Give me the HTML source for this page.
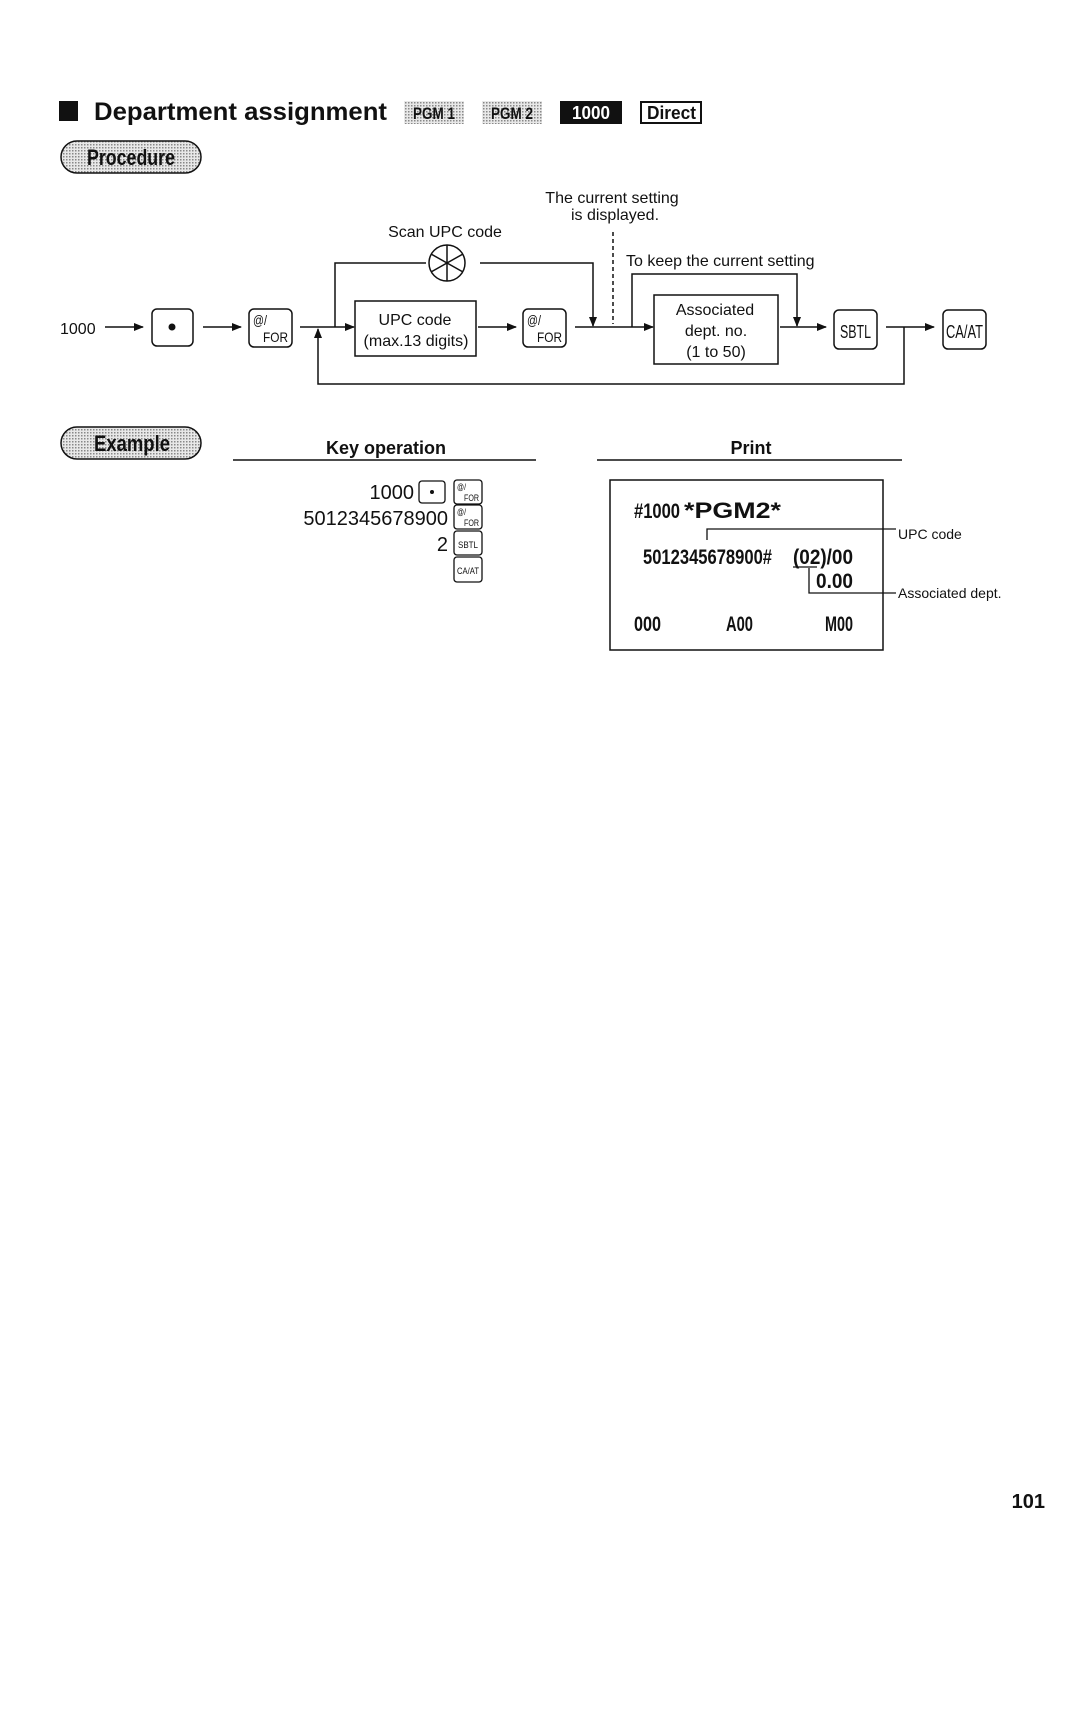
<!DOCTYPE html>
<html><head><meta charset="utf-8"><style>
html,body{margin:0;padding:0;background:#fff}
svg{display:block}
text{font-family:"Liberation Sans",sans-serif;fill:#111}
</style></head><body>
<svg width="1080" height="1710" viewBox="0 0 1080 1710" xmlns="http://www.w3.org/2000/svg">
<defs>
<pattern id="dot" width="3" height="3" patternUnits="userSpaceOnUse"><rect width="3" height="3" fill="#e8e8e8"/><rect width="1.5" height="1.5" fill="#888"/></pattern>
<marker id="ar" markerWidth="10" markerHeight="8" refX="9" refY="4" orient="auto" markerUnits="userSpaceOnUse"><path d="M0,0 L10,4 L0,8 z" fill="#111"/></marker>
</defs>
<!-- Title -->
<rect x="59" y="101" width="19" height="20" fill="#111"/>
<text x="94" y="120" font-size="25" font-weight="bold" textLength="293" lengthAdjust="spacingAndGlyphs">Department assignment</text>
<rect x="404" y="101" width="60" height="23" fill="url(#dot)"/>
<text x="413" y="119" font-size="17" font-weight="bold" textLength="42" lengthAdjust="spacingAndGlyphs">PGM 1</text>
<rect x="482" y="101" width="60" height="23" fill="url(#dot)"/>
<text x="491" y="119" font-size="17" font-weight="bold" textLength="42" lengthAdjust="spacingAndGlyphs">PGM 2</text>
<rect x="560" y="101" width="62" height="23" fill="#111"/>
<text x="572" y="119" font-size="18" font-weight="bold" textLength="38" lengthAdjust="spacingAndGlyphs" style="fill:#fff">1000</text>
<rect x="641" y="102" width="60" height="21" fill="#fff" stroke="#111" stroke-width="2"/>
<text x="647" y="119" font-size="18" font-weight="bold" textLength="49" lengthAdjust="spacingAndGlyphs">Direct</text>
<!-- Procedure pill -->
<rect x="61" y="141" width="140" height="32" rx="16" fill="url(#dot)" stroke="#111" stroke-width="1.5"/>
<text x="87" y="165" font-size="22" font-weight="bold" textLength="88" lengthAdjust="spacingAndGlyphs">Procedure</text>

<!-- Flow labels -->
<g font-size="16">
<text x="612" y="203" text-anchor="middle">The current setting</text>
<text x="615" y="220" text-anchor="middle">is displayed.</text>
<text x="445" y="237" text-anchor="middle">Scan UPC code</text>
<text x="626" y="266">To keep the current setting</text>
<text x="60" y="334">1000</text>
</g>
<g stroke="#111" stroke-width="1.5" fill="none">
<circle cx="447" cy="263" r="18"/>
<line x1="447" y1="245" x2="447" y2="281"/><line x1="431" y1="254" x2="463" y2="272"/><line x1="431" y1="272" x2="463" y2="254"/>
<polyline points="335,327 335,263 426,263"/>
<polyline points="480,263 593,263 593,326" marker-end="url(#ar)"/>
<line x1="613" y1="232" x2="613" y2="324" stroke-dasharray="4,3"/>
<polyline points="632,327 632,274 797,274 797,326" marker-end="url(#ar)"/>
<line x1="105" y1="327" x2="143" y2="327" marker-end="url(#ar)"/>
<line x1="203" y1="327" x2="241" y2="327" marker-end="url(#ar)"/>
<line x1="300" y1="327" x2="354" y2="327" marker-end="url(#ar)"/>
<line x1="478" y1="327" x2="516" y2="327" marker-end="url(#ar)"/>
<line x1="575" y1="327" x2="653" y2="327" marker-end="url(#ar)"/>
<line x1="780" y1="327" x2="826" y2="327" marker-end="url(#ar)"/>
<line x1="886" y1="327" x2="934" y2="327" marker-end="url(#ar)"/>
<polyline points="904,327 904,384 318,384 318,329" marker-end="url(#ar)"/>
<rect x="355" y="301" width="121" height="55"/>
<rect x="654" y="295" width="124" height="69"/>
<rect x="152" y="309" width="41" height="37" rx="5"/>
<rect x="249" y="309" width="43" height="38" rx="5"/>
<rect x="523" y="309" width="43" height="38" rx="5"/>
<rect x="834" y="310" width="43" height="39" rx="5"/>
<rect x="943" y="310" width="43" height="39" rx="5"/>
</g>
<circle cx="172" cy="327" r="3.5" fill="#111"/>
<g font-size="16" text-anchor="middle">
<text x="415" y="325">UPC code</text>
<text x="416" y="346">(max.13 digits)</text>
<text x="715" y="315">Associated</text>
<text x="716" y="336">dept. no.</text>
<text x="716" y="357">(1 to 50)</text>
</g>
<g font-size="14">
<text x="253" y="325" textLength="14" lengthAdjust="spacingAndGlyphs">@/</text><text x="263" y="342" textLength="25" lengthAdjust="spacingAndGlyphs">FOR</text>
<text x="527" y="325" textLength="14" lengthAdjust="spacingAndGlyphs">@/</text><text x="537" y="342" textLength="25" lengthAdjust="spacingAndGlyphs">FOR</text>
<text x="840" y="338" font-size="18" textLength="31" lengthAdjust="spacingAndGlyphs">SBTL</text>
<text x="946" y="338" font-size="18" textLength="37" lengthAdjust="spacingAndGlyphs">CA/AT</text>
</g>

<!-- Example -->
<rect x="61" y="427" width="140" height="32" rx="16" fill="url(#dot)" stroke="#111" stroke-width="1.5"/>
<text x="94" y="451" font-size="22" font-weight="bold" textLength="76" lengthAdjust="spacingAndGlyphs">Example</text>
<text x="386" y="454" font-size="18" font-weight="bold" text-anchor="middle">Key operation</text>
<line x1="233" y1="460" x2="536" y2="460" stroke="#111" stroke-width="1.5"/>
<text x="751" y="454" font-size="18" font-weight="bold" text-anchor="middle">Print</text>
<line x1="597" y1="460" x2="902" y2="460" stroke="#111" stroke-width="1.5"/>

<g font-size="20" text-anchor="end">
<text x="414" y="499">1000</text>
<text x="448" y="525">5012345678900</text>
<text x="448" y="551">2</text>
</g>
<g stroke="#111" stroke-width="1.3" fill="none">
<rect x="419" y="481" width="26" height="22" rx="3"/>
<rect x="454" y="480" width="28" height="24" rx="3"/>
<rect x="454" y="505" width="28" height="24" rx="3"/>
<rect x="454" y="531" width="28" height="24" rx="3"/>
<rect x="454" y="557" width="28" height="25" rx="3"/>
</g>
<circle cx="432" cy="492" r="2" fill="#111"/>
<g font-size="9">
<text x="457" y="490" textLength="9" lengthAdjust="spacingAndGlyphs">@/</text><text x="464" y="501" textLength="15" lengthAdjust="spacingAndGlyphs">FOR</text>
<text x="457" y="515" textLength="9" lengthAdjust="spacingAndGlyphs">@/</text><text x="464" y="526" textLength="15" lengthAdjust="spacingAndGlyphs">FOR</text>
<text x="458" y="548" textLength="20" lengthAdjust="spacingAndGlyphs">SBTL</text>
<text x="457" y="574" textLength="22" lengthAdjust="spacingAndGlyphs">CA/AT</text>
</g>

<!-- Print receipt -->
<rect x="610" y="480" width="273" height="170" fill="none" stroke="#111" stroke-width="1.5"/>
<g font-size="21" font-weight="bold">
<text x="634" y="518" textLength="46" lengthAdjust="spacingAndGlyphs">#1000</text>
<text x="684" y="518" font-size="22" textLength="97" lengthAdjust="spacingAndGlyphs">*PGM2*</text>
<text x="643" y="564" textLength="129" lengthAdjust="spacingAndGlyphs">5012345678900#</text>
<text x="793" y="564" textLength="60" lengthAdjust="spacingAndGlyphs">(02)/00</text>
<text x="816" y="588" textLength="37" lengthAdjust="spacingAndGlyphs">0.00</text>
<text x="634" y="631" textLength="27" lengthAdjust="spacingAndGlyphs">000</text>
<text x="726" y="631" textLength="27" lengthAdjust="spacingAndGlyphs">A00</text>
<text x="825" y="631" textLength="28" lengthAdjust="spacingAndGlyphs">M00</text>
</g>
<g stroke="#111" stroke-width="1.3" fill="none">
<polyline points="707,540 707,529 896,529"/>
<line x1="793" y1="567" x2="817" y2="567"/>
<polyline points="809,568 809,593 896,593"/>
</g>
<text x="898" y="539" font-size="14">UPC code</text>
<text x="898" y="598" font-size="14">Associated dept.</text>

<text x="1045" y="1508" font-size="20" font-weight="bold" text-anchor="end">101</text>
</svg>
</body></html>
